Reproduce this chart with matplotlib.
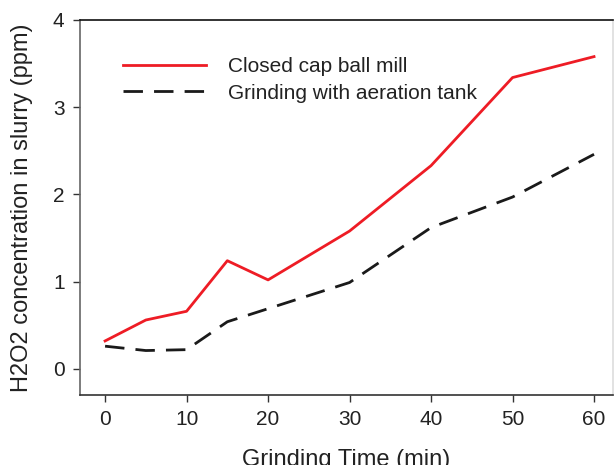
import numpy as np
import matplotlib
matplotlib.use('Agg')
import matplotlib.pyplot as plt

plt.rcParams['font.family'] = ['Liberation Sans', 'DejaVu Sans']

## data ##################################################################
time_min = [0, 5, 10, 15, 20, 30, 40, 50, 60]
closed_cap = [0.32, 0.56, 0.66, 1.24, 1.02, 1.58, 2.33, 3.34, 3.58]
aeration = [0.26, 0.21, 0.22, 0.54, 0.69, 0.99, 1.62, 1.97, 2.46]

txt = '#222222'

fig = plt.figure(figsize=(6.14, 4.65), dpi=100)
ax = fig.add_axes([0.130, 0.1505, 0.868, 0.8065])

ax.plot(time_min, closed_cap, color='#ee1c25', lw=2, label='Closed cap ball mill')
ax.plot(time_min, aeration, color='#1a1a1a', lw=2, dashes=(7, 4),
        label='Grinding with aeration tank')

ax.set_xlim(-3.1, 62.3)
ax.set_ylim(-0.30, 4.0)
ax.set_xticks([0, 10, 20, 30, 40, 50, 60])
ax.set_yticks([0, 1, 2, 3, 4])
ax.tick_params(direction='out', length=5, width=1, colors='#333333',
               labelsize=15, labelcolor=txt, pad=6)

ax.spines['left'].set_color('#666666')
ax.spines['bottom'].set_color('#333333')
ax.spines['top'].set_color('#111111')
ax.spines['right'].set_color('#dddddd')
for s in ax.spines.values():
    s.set_linewidth(1.2)

ax.set_xlabel('Grinding Time (min)', fontsize=17, color=txt, labelpad=14)
ax.set_ylabel('H2O2 concentration in slurry (ppm)', fontsize=17, color=txt, labelpad=14)

leg = ax.legend(loc='upper left', bbox_to_anchor=(0.045, 0.95), frameon=False,
                fontsize=15, handlelength=4.0, handletextpad=1.05,
                labelspacing=0.35, labelcolor=txt)

fig.savefig('out.png', dpi=100)
